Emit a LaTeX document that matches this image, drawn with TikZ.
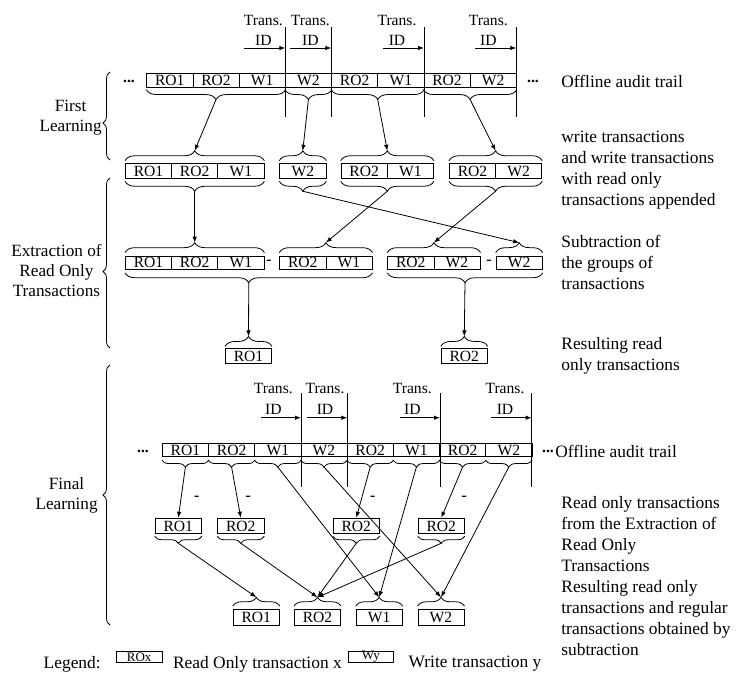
\documentclass[tikz,border=0pt]{standalone}
\usepackage{fontspec}
\setmainfont{Liberation Serif}
\usetikzlibrary{arrows.meta,decorations.pathreplacing}

\begin{document}
\begin{tikzpicture}[
        x=1pt, y=-1pt,
        line width=0.8pt,
        every node/.style={black},
        >={Latex[length=6pt,width=4.5pt]},
        cell/.style={draw, minimum width=46.2pt, minimum height=13.3pt, inner sep=0pt, font=\fontsize{15.6}{18}\selectfont},
        tall/.style={cell, minimum height=15.7pt},
        brc/.style={decorate, decoration={brace, amplitude=#1}},
        brc/.default=10pt,
        lbl/.style={inner sep=0pt, font=\fontsize{15.6}{18}\selectfont},
        minus/.style={inner sep=0pt, font=\fontsize{15.6}{18}\selectfont\bfseries},
        side/.style={anchor=west, align=left, inner sep=0pt, font=\fontsize{17.4}{21}\selectfont},
        phase/.style={anchor=east, align=center, inner sep=0pt, font=\fontsize{17.2}{20}\selectfont}
    ]
    \useasboundingbox (0,0) rectangle (740,673);

    % First Learning
    \foreach \n/\x/\d in {1/285.3/22,2/331.3/21,3/424/27,4/516.3/28} {
        \draw (\x,27) -- (\x,117);
        \draw[->] (\x-41,48) -- (\x,48);
        \node[lbl] (tra\n) at (\x-\d,20) {Trans.};
        \node[lbl] (ida\n) at (\x-\d,40) {ID};
    }
    \foreach \lab [count=\i] in {RO1,RO2,W1,W2,RO2,W1,RO2,W2}
        \node[cell] (a\i) at ({146.7+46.2*(\i-0.5)},80.5) {\lab};
    \node[lbl] (dta) at (129,81) {\textbf{...}};
    \node[lbl] (dtb) at (533,81) {\textbf{...}};
    \foreach \s/\e [count=\g] in {1/3,4/4,5/6,7/8}
        \draw[brc] ([yshift=-2pt]a\e.south east) -- coordinate[midway,yshift=-10pt] (ad\g) ([yshift=-2pt]a\s.south west);

    \foreach \lab/\x [count=\i] in {RO1/125,RO2/171.2,W1/217.4,W2/279.3,RO2/340.7,W1/386.9,RO2/449,W2/495.2}
        \node[tall, anchor=west] (b\i) at (\x,171) {\lab};
    \foreach \s/\e [count=\g] in {1/3,4/4,5/6,7/8} {
        \draw[brc] ([yshift=2pt]b\s.north west) -- coordinate[midway,yshift=10pt] (bu\g) ([yshift=2pt]b\e.north east);
        \draw[brc] ([yshift=-2pt]b\e.south east) -- coordinate[midway,yshift=-10pt] (bd\g) ([yshift=-2pt]b\s.south west);
    }
    \foreach \g in {1,...,4}
        \draw[->] (ad\g) -- (bu\g);

    % Extraction of read only transactions
    \foreach \lab/\x [count=\i] in {RO1/125,RO2/171.2,W1/217.4,RO2/279.3,W1/325.5,RO2/387.3,W2/433.5,W2/495.7}
        \node[cell, anchor=west] (c\i) at (\x,262.7) {\lab};
    \node[minus] (m1) at (269,262.7) {-};
    \node[minus] (m2) at (489,262.7) {-};
    \foreach \s/\e [count=\g] in {1/3,4/5,6/7,8/8}
        \draw[brc] ([yshift=3pt]c\s.north west) -- coordinate[midway,yshift=10pt] (cu\g) ([yshift=3pt]c\e.north east);
    \foreach \s/\e [count=\g] in {1/5,6/8}
        \draw[brc] ([yshift=-3pt]c\e.south east) -- coordinate[midway,yshift=-10pt] (cd\g) ([yshift=-3pt]c\s.south west);
    \draw[->] (bd1) -- (cu1);
    \draw[->] (bd2) -- (cu4);
    \draw[->] (bd3) -- (cu2);
    \draw[->] (bd4) -- (cu3);

    \node[cell, minimum height=14.3pt] (r1) at (248.5,356) {RO1};
    \node[cell, minimum height=14.3pt] (r2) at (464.3,356) {RO2};
    \foreach \i in {1,2}
        \draw[brc] ([yshift=2pt]r\i.north west) -- coordinate[midway,yshift=10pt] (ru\i) ([yshift=2pt]r\i.north east);
    \draw[->] (cd1) -- (ru1);
    \draw[->] (cd2) -- (ru2);

    % Final Learning
    \foreach \n/\x/\d in {1/301/27.7,2/347.3/22.3,3/440/27.7,4/531.7/26.7} {
        \draw (\x,393.3) -- (\x,486.7);
        \draw[->] (\x-40.5,417.7) -- (\x,417.7);
        \node[lbl] (trd\n) at (\x-\d,388.3) {Trans.};
        \node[lbl] (idd\n) at (\x-\d,409.3) {ID};
    }
    \foreach \lab [count=\i] in {RO1,RO2,W1,W2,RO2,W1,RO2,W2}
        \node[cell] (d\i) at ({162.3+46.2*(\i-0.5)},450) {\lab};
    \node[lbl] (dtc) at (143,451) {\textbf{...}};
    \node[lbl] (dtd) at (548,451) {\textbf{...}};
    \foreach \i in {1,...,8}
        \draw[brc=7pt] ([yshift=-3pt]d\i.south east) -- coordinate[midway,yshift=-7pt] (dd\i) ([yshift=-3pt]d\i.south west);

    \foreach \lab/\x [count=\i] in {RO1/178.3,RO2/240.8,RO2/356.3,RO2/441.3}
        \node[tall] (e\i) at (\x,526) {\lab};
    \foreach \i in {1,...,4}
        \draw[brc=7pt] ([yshift=-2pt]e\i.south east) -- coordinate[midway,yshift=-7pt] (ed\i) ([yshift=-2pt]e\i.south west);
    \foreach \i/\x in {3/196.7,4/248.3,5/372.7,6/464.3}
        \node[minus] (m\i) at (\x,498) {-};

    \foreach \lab/\x [count=\i] in {RO1/256.3,RO2/317.5,W1/379.2,W2/441}
        \node[tall] (f\i) at (\x,617.5) {\lab};
    \foreach \i in {1,...,4}
        \draw[brc=9pt] ([yshift=3pt]f\i.north west) -- coordinate[midway,yshift=9pt] (fu\i) ([yshift=3pt]f\i.north east);

    \draw[->] (dd1) -- (e1.north);
    \draw[->] (dd2) -- (e2.north);
    \draw[->] (dd5) -- (e3.north);
    \draw[->] (dd7) -- (e4.north);
    \draw[->] (dd3) -- (fu3);
    \draw[->] (dd4) -- (fu4);
    \draw[->] (dd6) -- (fu3);
    \draw[->] (dd8) -- (fu4);
    \draw[->] (ed1) -- (fu1);
    \draw[->] (ed2) -- (fu2);
    \draw[->] (ed3) -- (fu2);
    \draw[->] (ed4) -- (fu2);

    % phases
    \draw[brc=7pt, decoration={aspect=0.42}] (110,160) -- (110,72);
    \node[phase] (ph1) at (102,118) {First\\Learning};
    \draw[brc=7pt, decoration={aspect=0.45}] (110,348) -- (110,178);
    \node[phase] (ph2) at (102,271) {Extraction of\\Read Only\\Transactions};
    \draw[brc=7pt] (110,625) -- (110,365);
    \node[phase] (ph3) at (98,495) {Final\\Learning};

    % descriptions
    \node[side] (s1) at (561,81) {Offline audit trail};
    \node[side] (s2) at (561,170) {write transactions\\and write transactions\\with read only\\transactions appended};
    \node[side] (s3) at (561,262) {Subtraction of\\the groups of\\transactions};
    \node[side] (s4) at (561,356) {Resulting read\\only transactions};
    \node[side] (s5) at (555,451) {Offline audit trail};
    \node[side] (s6) at (561,534) {Read only transactions\\from the Extraction of\\Read Only\\Transactions};
    \node[side] (s7) at (561,618) {Resulting read only\\transactions and regular\\transactions obtained by\\subtraction};

    % legend
    \node[side] (leg) at (43.3,664) {Legend:};
    \node[cell, minimum height=11.7pt, font=\fontsize{13}{15}\selectfont] (lx) at (139.2,656.8) {ROx};
    \node[side] (lxt) at (172.7,664) {Read Only transaction x};
    \node[cell, minimum width=45pt, minimum height=11.7pt, font=\fontsize{13}{15}\selectfont] (ly) at (370.8,656.8) {Wy};
    \node[side] (lyt) at (408.3,664) {Write transaction y};
\end{tikzpicture}
\end{document}
